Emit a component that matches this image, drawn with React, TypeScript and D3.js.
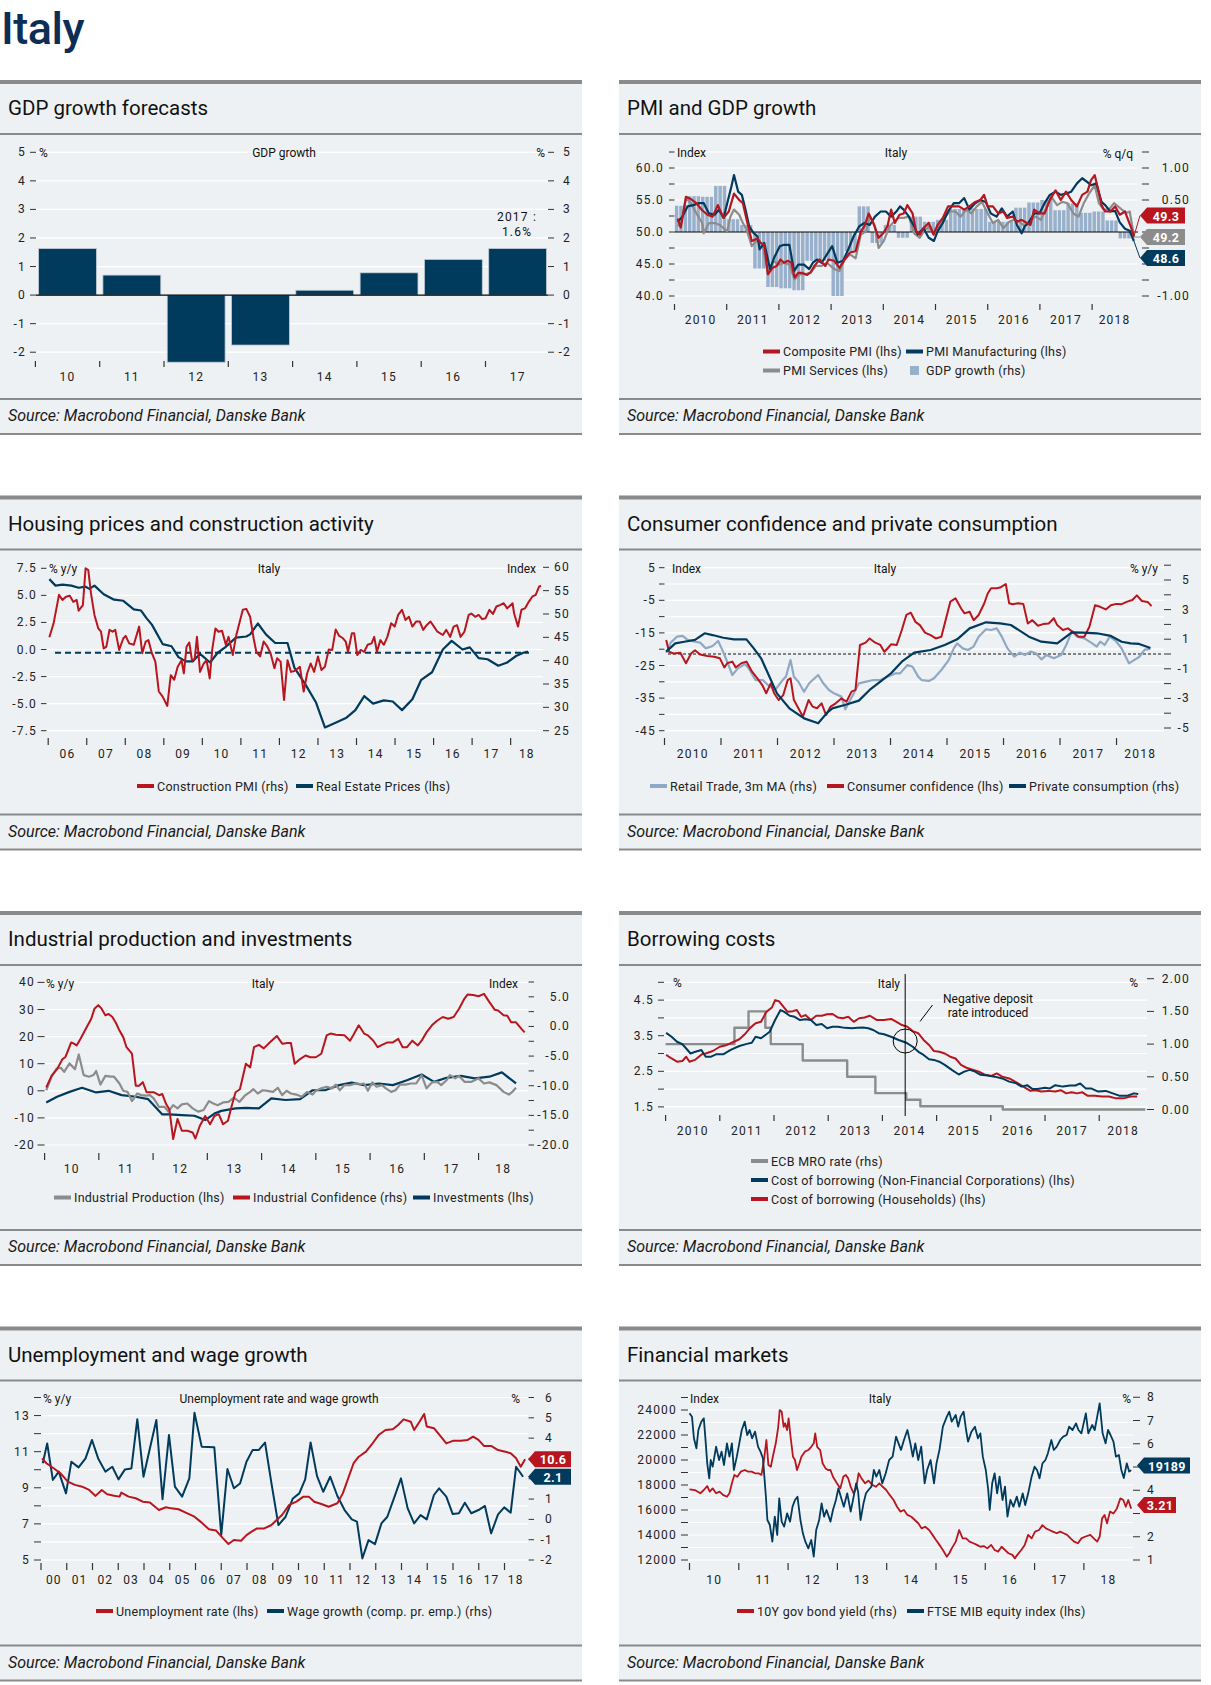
import React from "react";
import * as d3 from "d3";

type Pt = [number, number];
type Sc = d3.ScaleLinear<number, number>;

const FONT = "Roboto, 'Noto Sans', sans-serif";
const RED = "#b8161f";
const NAVY = "#003a5d";
const GRAY = "#8c8c8c";
const LBLUE = "#8fa8c4";
const GDPBAR = "#98b0cb";
const BG = "#eef1f3";
const RULE = "#8a8a8a";
const ROWS = [80, 495.5, 911, 1326.5];

// ---------------- DATA ----------------
const gdpYears = ["10", "11", "12", "13", "14", "15", "16", "17"];
const gdpGrowth = [1.63, 0.7, -2.35, -1.75, 0.17, 0.78, 1.25, 1.63];

const pmiComposite: Pt[] = [
  [2010.06, 52.1], [2010.12, 50.7], [2010.22, 55.5], [2010.32, 55.1], [2010.42, 54.5], [2010.53, 53.4], [2010.63, 52.7], [2010.73, 52.4], [2010.83, 54.2], [2010.94, 52.2],
  [2011.04, 53.2], [2011.14, 56.0], [2011.24, 55.0], [2011.31, 54.5], [2011.38, 52.0], [2011.48, 48.6], [2011.59, 49.0], [2011.65, 48.3], [2011.72, 48.0], [2011.79, 43.4], [2011.88, 44.4], [2011.96, 44.7],
  [2012.03, 45.7], [2012.1, 45.2], [2012.17, 45.5], [2012.24, 45.2], [2012.3, 42.9], [2012.37, 43.6], [2012.45, 43.6], [2012.54, 43.3], [2012.61, 43.7], [2012.68, 44.7], [2012.78, 45.7], [2012.89, 44.7], [2012.95, 45.7],
  [2013.06, 45.5], [2013.16, 44.4], [2013.26, 45.7], [2013.36, 46.8], [2013.47, 47.0], [2013.57, 50.1], [2013.64, 50.9], [2013.72, 52.9], [2013.81, 51.4], [2013.91, 49.1],
  [2014.0, 49.8], [2014.08, 50.9], [2014.15, 53.5], [2014.22, 51.4], [2014.31, 52.7], [2014.39, 52.9], [2014.46, 54.2], [2014.56, 52.9], [2014.63, 50.1], [2014.7, 49.6], [2014.77, 50.6], [2014.87, 51.4], [2014.96, 49.6],
  [2015.04, 51.1], [2015.14, 52.2], [2015.24, 54.0], [2015.35, 54.0], [2015.45, 54.0], [2015.55, 53.5], [2015.65, 54.0], [2015.76, 54.7], [2015.86, 55.0], [2015.93, 55.8],
  [2016.0, 54.0], [2016.1, 54.0], [2016.2, 52.9], [2016.3, 53.2], [2016.37, 52.2], [2016.48, 52.4], [2016.56, 51.6], [2016.65, 51.9], [2016.75, 51.4], [2016.82, 51.1], [2016.89, 53.5], [2016.99, 52.9],
  [2017.09, 52.9], [2017.19, 55.0], [2017.3, 56.5], [2017.4, 55.0], [2017.5, 56.3], [2017.6, 55.0], [2017.71, 54.0], [2017.81, 55.8], [2017.91, 56.3], [2017.98, 58.1],
  [2018.05, 58.9], [2018.12, 56.5], [2018.18, 54.2], [2018.25, 53.2], [2018.35, 53.2], [2018.44, 54.0], [2018.53, 52.7], [2018.63, 53.2], [2018.69, 51.9], [2018.76, 50.4], [2018.8, 49.3],
];
const pmiManufacturing: Pt[] = [
  [2010.06, 51.6], [2010.15, 52.4], [2010.25, 54.0], [2010.36, 54.2], [2010.46, 54.5], [2010.56, 54.5], [2010.66, 52.9], [2010.77, 52.7], [2010.85, 53.5], [2010.94, 52.2],
  [2011.01, 54.5], [2011.09, 57.1], [2011.14, 58.9], [2011.22, 56.3], [2011.29, 55.8], [2011.36, 53.5], [2011.43, 50.9], [2011.52, 49.8], [2011.59, 49.3], [2011.63, 47.3], [2011.72, 48.3], [2011.83, 44.2], [2011.91, 46.0],
  [2012.02, 47.8], [2012.1, 48.0], [2012.2, 48.0], [2012.29, 43.9], [2012.37, 44.9], [2012.48, 44.9], [2012.58, 44.2], [2012.65, 45.2], [2012.73, 45.7], [2012.82, 45.2], [2012.92, 46.5],
  [2013.02, 47.8], [2013.12, 45.2], [2013.23, 45.5], [2013.33, 47.3], [2013.43, 49.3], [2013.54, 50.9], [2013.64, 51.4], [2013.74, 51.1], [2013.84, 52.4], [2013.95, 53.2],
  [2014.05, 53.2], [2014.15, 52.4], [2014.25, 53.2], [2014.32, 54.0], [2014.39, 53.5], [2014.49, 52.4], [2014.59, 50.9], [2014.66, 49.6], [2014.77, 50.6], [2014.87, 49.1], [2014.97, 48.6],
  [2015.04, 50.1], [2015.14, 51.4], [2015.24, 53.2], [2015.35, 54.5], [2015.45, 54.5], [2015.55, 55.3], [2015.65, 53.5], [2015.76, 54.5], [2015.86, 55.0], [2015.96, 54.7],
  [2016.06, 52.9], [2016.17, 52.4], [2016.27, 53.7], [2016.37, 52.4], [2016.48, 53.2], [2016.56, 51.1], [2016.65, 49.8], [2016.71, 50.9], [2016.78, 51.4], [2016.89, 52.9], [2016.99, 52.9],
  [2017.09, 54.5], [2017.19, 55.8], [2017.3, 56.3], [2017.4, 55.8], [2017.5, 56.0], [2017.6, 56.3], [2017.71, 57.6], [2017.81, 58.4], [2017.91, 57.8], [2017.98, 57.3],
  [2018.08, 57.6], [2018.18, 54.7], [2018.25, 54.2], [2018.35, 53.2], [2018.44, 53.3], [2018.53, 51.5], [2018.63, 50.5], [2018.72, 50.2], [2018.8, 48.6],
];
const pmiServices: Pt[] = [
  [2010.06, 51.1], [2010.12, 50.9], [2010.22, 55.3], [2010.32, 54.5], [2010.42, 52.9], [2010.53, 51.4], [2010.56, 49.8], [2010.66, 51.4], [2010.77, 51.4], [2010.87, 51.1],
  [2011.01, 50.1], [2011.07, 52.4], [2011.14, 53.5], [2011.24, 52.7], [2011.31, 51.4], [2011.38, 50.4], [2011.48, 47.8], [2011.59, 48.8], [2011.69, 48.0], [2011.79, 43.4], [2011.89, 45.5],
  [2012.0, 44.9], [2012.1, 45.2], [2012.2, 44.9], [2012.3, 42.6], [2012.41, 43.4], [2012.51, 43.4], [2012.61, 43.7], [2012.71, 44.7], [2012.82, 44.7], [2012.92, 45.2],
  [2013.06, 44.2], [2013.16, 43.9], [2013.26, 45.7], [2013.36, 46.5], [2013.47, 45.9], [2013.57, 49.6], [2013.67, 50.1], [2013.74, 52.4], [2013.84, 50.9], [2013.91, 47.5],
  [2014.01, 48.6], [2014.12, 50.9], [2014.18, 51.4], [2014.29, 52.2], [2014.39, 52.2], [2014.49, 52.4], [2014.59, 49.8], [2014.7, 49.1], [2014.8, 50.4], [2014.9, 50.9], [2014.97, 49.6],
  [2015.07, 50.9], [2015.18, 52.4], [2015.28, 53.2], [2015.38, 53.2], [2015.48, 52.4], [2015.59, 53.5], [2015.69, 52.9], [2015.79, 54.0], [2015.89, 54.7],
  [2016.0, 52.9], [2016.1, 51.4], [2016.2, 51.9], [2016.3, 50.6], [2016.41, 51.6], [2016.51, 51.9], [2016.61, 51.6], [2016.71, 50.9], [2016.82, 51.9], [2016.92, 52.4],
  [2017.02, 51.9], [2017.12, 53.7], [2017.22, 55.5], [2017.33, 54.2], [2017.43, 54.7], [2017.53, 54.5], [2017.64, 52.9], [2017.74, 52.4], [2017.84, 54.5], [2017.94, 56.0],
  [2018.05, 57.3], [2018.13, 54.5], [2018.22, 53.5], [2018.32, 53.5], [2018.42, 54.5], [2018.57, 53.5], [2018.66, 53.0], [2018.72, 53.2], [2018.78, 50.4], [2018.8, 49.2],
];
// quarterly q/q growth from 2010Q1
const gdpQoQ = [
  0.41, 0.56, 0.55, 0.72, 0.2, 0.11, -0.57, -0.86, -0.88, -0.91, -0.45, -0.45, -1.0, -0.3, 0.4, -0.17,
  0.11, -0.09, 0.24, 0.16, 0.19, 0.36, 0.37, 0.36, 0.16, 0.16, 0.38, 0.46, 0.5, 0.34, 0.45, 0.3, 0.32, 0.18, -0.1,
];
const pmiLast = { composite: "49.3", services: "49.2", manufacturing: "48.6" };

const constructionPmi: Pt[] = [
  [2006.03, 45.0], [2006.14, 48.0], [2006.28, 54.1], [2006.37, 53.0], [2006.46, 53.7], [2006.56, 53.9], [2006.65, 52.6], [2006.74, 53.0], [2006.79, 50.7], [2006.9, 51.9], [2006.97, 59.8],
  [2007.04, 59.4], [2007.11, 54.4], [2007.2, 49.8], [2007.3, 46.9], [2007.37, 46.2], [2007.44, 42.6], [2007.51, 43.0], [2007.59, 46.6], [2007.67, 46.2], [2007.74, 46.6], [2007.84, 42.3], [2007.95, 44.8],
  [2008.01, 45.3], [2008.1, 43.7], [2008.22, 43.4], [2008.36, 47.3], [2008.44, 41.6], [2008.53, 44.1], [2008.6, 44.4], [2008.69, 41.6], [2008.78, 39.8], [2008.87, 33.4], [2008.97, 32.3],
  [2009.09, 30.3], [2009.18, 36.9], [2009.27, 35.9], [2009.36, 38.7], [2009.46, 40.1], [2009.52, 37.3], [2009.59, 43.0], [2009.66, 43.9], [2009.73, 40.1], [2009.8, 40.3], [2009.86, 45.1], [2009.94, 37.6],
  [2010.03, 39.3], [2010.11, 40.1], [2010.19, 36.2], [2010.26, 42.6], [2010.34, 46.9], [2010.42, 46.2], [2010.51, 46.4], [2010.61, 43.4], [2010.68, 45.1], [2010.79, 41.2], [2010.87, 45.1], [2010.96, 48.0],
  [2011.05, 50.9], [2011.14, 51.1], [2011.24, 49.4], [2011.33, 44.8], [2011.4, 41.9], [2011.5, 40.9], [2011.59, 44.1], [2011.68, 43.1], [2011.77, 41.6], [2011.87, 38.4], [2011.94, 40.5],
  [2012.03, 39.8], [2012.12, 31.6], [2012.21, 40.1], [2012.3, 37.6], [2012.39, 37.8], [2012.53, 38.7], [2012.63, 33.4], [2012.72, 37.3], [2012.81, 39.4], [2012.9, 37.6],
  [2013.0, 40.9], [2013.09, 38.0], [2013.18, 38.7], [2013.28, 42.4], [2013.37, 42.3], [2013.46, 46.7], [2013.55, 45.3], [2013.65, 44.8], [2013.72, 44.1], [2013.78, 41.9], [2013.88, 45.9], [2013.94, 45.9],
  [2014.02, 41.2], [2014.11, 42.3], [2014.2, 41.9], [2014.29, 43.4], [2014.39, 43.7], [2014.46, 45.1], [2014.53, 41.9], [2014.62, 44.4], [2014.71, 43.4], [2014.8, 45.1], [2014.9, 48.0], [2014.99, 47.3],
  [2015.08, 49.8], [2015.18, 50.9], [2015.27, 48.7], [2015.36, 49.4], [2015.45, 47.3], [2015.55, 48.4], [2015.64, 48.4], [2015.73, 46.6], [2015.82, 47.6], [2015.92, 48.4],
  [2016.01, 47.3], [2016.1, 46.2], [2016.24, 45.5], [2016.33, 46.6], [2016.43, 45.1], [2016.52, 47.3], [2016.61, 47.6], [2016.7, 45.1], [2016.8, 46.2], [2016.91, 49.8], [2016.98, 50.1],
  [2017.08, 49.4], [2017.17, 49.8], [2017.26, 48.9], [2017.35, 49.1], [2017.45, 50.9], [2017.54, 50.0], [2017.63, 51.6], [2017.72, 51.9], [2017.82, 52.3], [2017.91, 51.2],
  [2018.05, 52.3], [2018.09, 50.1], [2018.19, 47.3], [2018.28, 50.9], [2018.37, 51.2], [2018.47, 52.6], [2018.56, 53.7], [2018.65, 54.1], [2018.74, 55.9], [2018.79, 56.0],
];
const realEstatePrices: Pt[] = [
  [2006.03, 6.5], [2006.19, 5.9], [2006.37, 6.0], [2006.6, 5.9], [2006.79, 5.7], [2006.97, 5.8], [2007.07, 5.6], [2007.2, 5.9], [2007.44, 5.1], [2007.71, 4.6], [2007.95, 4.5],
  [2008.22, 3.7], [2008.41, 3.6], [2008.55, 2.9], [2008.69, 2.3], [2008.97, 0.5], [2009.2, 0.3], [2009.38, -0.7], [2009.57, -1.1], [2009.75, -1.1], [2009.94, -0.4],
  [2010.2, -1.2], [2010.4, -0.3], [2010.59, 0.2], [2010.87, 1.1], [2011.14, 1.2], [2011.24, 1.4], [2011.44, 2.4], [2011.65, 1.4], [2011.89, 0.6], [2012.21, 0.6],
  [2012.39, -1.7], [2012.67, -3.2], [2012.95, -4.9], [2013.18, -7.2], [2013.37, -6.9], [2013.74, -6.3], [2013.97, -5.6], [2014.2, -4.3], [2014.43, -5.0], [2014.71, -4.7],
  [2014.94, -4.8], [2015.18, -5.6], [2015.45, -4.6], [2015.68, -2.8], [2015.96, -2.1], [2016.24, 0.0], [2016.47, 0.8], [2016.75, 0.0], [2016.94, 0.2], [2017.17, -0.8],
  [2017.4, -0.9], [2017.68, -1.5], [2017.91, -1.2], [2018.14, -0.6], [2018.33, -0.3], [2018.45, -0.2],
];
const housingRef = -0.3;

const consumerConfidence: Pt[] = [
  [2010.03, -17.2], [2010.08, -20.8], [2010.16, -21.3], [2010.28, -21.1], [2010.38, -24.3], [2010.47, -21.3], [2010.54, -20.3], [2010.63, -21.6], [2010.76, -22.1], [2010.88, -22.3], [2010.98, -22.8],
  [2011.06, -25.6], [2011.11, -24.3], [2011.2, -23.8], [2011.26, -25.6], [2011.36, -24.3], [2011.45, -23.8], [2011.55, -26.9], [2011.64, -28.9], [2011.73, -31.0], [2011.8, -33.5], [2011.88, -30.5], [2011.94, -33.5],
  [2012.02, -35.6], [2012.1, -34.1], [2012.18, -29.5], [2012.23, -28.9], [2012.29, -35.6], [2012.37, -38.1], [2012.45, -40.7], [2012.55, -35.6], [2012.62, -37.6], [2012.7, -38.1], [2012.78, -36.6], [2012.86, -40.2], [2012.94, -37.6],
  [2013.03, -36.6], [2013.13, -35.1], [2013.22, -36.1], [2013.31, -33.0], [2013.38, -32.5], [2013.46, -18.7], [2013.56, -18.0], [2013.63, -16.7], [2013.73, -18.0], [2013.82, -18.7], [2013.89, -20.8], [2013.95, -19.7],
  [2014.01, -18.5], [2014.11, -18.7], [2014.2, -14.1], [2014.28, -9.5], [2014.36, -8.8], [2014.44, -11.6], [2014.52, -12.6], [2014.61, -14.9], [2014.71, -15.7], [2014.8, -16.7], [2014.9, -16.2], [2014.96, -12.1],
  [2015.06, -5.4], [2015.15, -4.4], [2015.25, -7.5], [2015.31, -9.0], [2015.4, -8.5], [2015.47, -11.1], [2015.56, -9.5], [2015.66, -5.9], [2015.72, -2.9], [2015.78, -1.3], [2015.88, -1.3], [2015.94, -1.1],
  [2016.04, 0.0], [2016.1, -5.9], [2016.16, -6.2], [2016.26, -5.9], [2016.35, -6.1], [2016.43, -12.1], [2016.51, -11.1], [2016.61, -12.8], [2016.7, -12.3], [2016.8, -12.1], [2016.89, -10.5], [2016.95, -12.6],
  [2017.05, -14.1], [2017.14, -13.6], [2017.24, -14.9], [2017.33, -16.2], [2017.43, -16.2], [2017.52, -13.1], [2017.62, -6.5], [2017.71, -7.0], [2017.81, -7.8], [2017.9, -6.5],
  [2018.0, -6.1], [2018.09, -6.2], [2018.19, -5.4], [2018.28, -4.9], [2018.36, -3.5], [2018.45, -5.2], [2018.55, -5.5], [2018.62, -6.8],
];
const privateConsumption: Pt[] = [
  [2010.03, 0.16], [2010.19, 0.72], [2010.35, 0.83], [2010.54, 0.95], [2010.71, 1.4], [2010.85, 1.28], [2011.04, 1.1], [2011.23, 0.99], [2011.45, 0.99], [2011.58, 0.38],
  [2011.71, -0.29], [2011.83, -1.3], [2011.99, -2.66], [2012.21, -3.67], [2012.47, -4.35], [2012.72, -4.68], [2012.88, -3.96], [2012.97, -3.67], [2013.19, -3.45], [2013.44, -3.15],
  [2013.63, -2.43], [2013.82, -1.87], [2014.01, -1.3], [2014.2, -0.52], [2014.42, 0.09], [2014.71, 0.27], [2014.96, 0.61], [2015.18, 0.99], [2015.4, 1.73], [2015.69, 2.14],
  [2015.94, 2.07], [2016.13, 1.96], [2016.45, 1.17], [2016.67, 0.83], [2016.95, 0.72], [2017.21, 1.46], [2017.4, 1.44], [2017.65, 1.4], [2017.9, 1.22], [2018.09, 0.83],
  [2018.25, 0.72], [2018.4, 0.68], [2018.6, 0.4],
];
const retailTrade: Pt[] = [
  [2010.03, 0.09], [2010.11, 0.77], [2010.22, 1.17], [2010.32, 1.22], [2010.41, 0.95], [2010.54, 0.83], [2010.63, 0.77], [2010.73, 0.38], [2010.85, 0.54], [2010.95, 0.88],
  [2011.01, 0.38], [2011.11, -0.52], [2011.2, -1.42], [2011.3, -0.97], [2011.42, -0.68], [2011.49, -0.97], [2011.61, -1.76], [2011.74, -1.76], [2011.83, -2.09], [2011.96, -2.43],
  [2012.09, -1.76], [2012.15, -1.53], [2012.23, -0.41], [2012.29, -1.53], [2012.37, -1.87], [2012.47, -2.55], [2012.56, -1.98], [2012.72, -1.42], [2012.81, -1.98], [2012.91, -2.43],
  [2013.0, -2.66], [2013.13, -2.88], [2013.2, -3.74], [2013.27, -3.22], [2013.35, -2.66], [2013.44, -1.98], [2013.57, -1.87], [2013.7, -1.76], [2013.82, -1.76], [2013.95, -1.53],
  [2014.08, -1.31], [2014.17, -1.31], [2014.3, -0.74], [2014.39, -0.86], [2014.49, -1.53], [2014.55, -1.76], [2014.68, -1.82], [2014.77, -1.64], [2014.9, -1.08],
  [2015.03, -0.41], [2015.12, 0.38], [2015.18, 0.72], [2015.28, 0.38], [2015.37, 0.27], [2015.47, 0.5], [2015.56, 1.17], [2015.69, 1.67], [2015.78, 1.62], [2015.88, 1.73], [2015.97, 1.17],
  [2016.07, 0.38], [2016.19, -0.18], [2016.29, 0.09], [2016.38, -0.07], [2016.48, 0.16], [2016.57, 0.05], [2016.67, -0.36], [2016.76, -0.07], [2016.89, -0.29],
  [2017.02, -0.07], [2017.11, 0.61], [2017.21, 1.55], [2017.3, 1.17], [2017.43, 1.06], [2017.55, 0.77], [2017.65, 0.5], [2017.71, 0.83], [2017.79, 0.61], [2017.88, 1.17],
  [2018.0, 0.83], [2018.09, 0.38], [2018.22, -0.63], [2018.31, -0.41], [2018.4, -0.2], [2018.5, 0.3], [2018.6, 0.35],
];

const industrialConfidence: Pt[] = [
  [2010.03, -10.3], [2010.13, -8.3], [2010.23, -7.2], [2010.33, -5.5], [2010.38, -5.2], [2010.43, -4.1], [2010.49, -2.7], [2010.54, -2.9], [2010.59, -3.2], [2010.66, -2.1], [2010.76, -0.4], [2010.86, 1.3], [2010.92, 3.0], [2010.99, 3.6],
  [2011.05, 3.0], [2011.12, 1.9], [2011.18, 2.1], [2011.25, 1.6], [2011.32, 0.5], [2011.38, -0.7], [2011.45, -1.8], [2011.51, -3.5], [2011.61, -4.6], [2011.68, -10.0], [2011.74, -10.0], [2011.81, -9.4], [2011.88, -11.1], [2011.94, -11.1],
  [2012.01, -11.1], [2012.11, -11.6], [2012.17, -11.4], [2012.24, -13.1], [2012.3, -14.0], [2012.37, -19.0], [2012.45, -15.6], [2012.53, -17.6], [2012.63, -17.6], [2012.73, -17.9], [2012.78, -18.9], [2012.86, -16.8], [2012.96, -15.1],
  [2013.05, -16.5], [2013.13, -15.1], [2013.21, -14.8], [2013.29, -16.5], [2013.38, -15.9], [2013.44, -13.7], [2013.52, -11.1], [2013.6, -10.6], [2013.71, -6.3], [2013.79, -6.9], [2013.86, -3.5], [2013.95, -3.1],
  [2014.04, -3.7], [2014.15, -2.7], [2014.28, -1.6], [2014.38, -2.9], [2014.48, -2.8], [2014.54, -2.8], [2014.61, -6.3], [2014.71, -5.5], [2014.81, -4.9], [2014.9, -5.2],
  [2015.0, -5.2], [2015.1, -4.6], [2015.2, -1.5], [2015.27, -1.2], [2015.37, -1.4], [2015.53, -1.5], [2015.63, -2.4], [2015.69, -1.5], [2015.79, 0.2], [2015.89, -1.2], [2015.96, -1.5],
  [2016.06, -2.4], [2016.14, -3.5], [2016.22, -3.1], [2016.32, -2.7], [2016.42, -2.7], [2016.52, -2.1], [2016.6, -3.5], [2016.68, -3.5], [2016.78, -2.4], [2016.88, -3.2], [2016.95, -2.4],
  [2017.04, -1.0], [2017.14, 0.2], [2017.24, 1.0], [2017.34, 1.6], [2017.44, 1.3], [2017.54, 1.6], [2017.64, 3.0], [2017.74, 4.7], [2017.8, 5.4], [2017.9, 5.3],
  [2018.0, 5.1], [2018.1, 5.5], [2018.2, 4.1], [2018.3, 2.8], [2018.36, 2.7], [2018.46, 1.9], [2018.53, 1.8], [2018.6, 0.7], [2018.69, 0.7], [2018.79, -0.4], [2018.85, -1.0],
];
const industrialProduction: Pt[] = [
  [2010.03, 0.2], [2010.13, 5.2], [2010.22, 8.2], [2010.3, 8.5], [2010.36, 7.0], [2010.46, 10.1], [2010.56, 8.0], [2010.63, 13.4], [2010.72, 5.8], [2010.82, 5.2], [2010.9, 5.8], [2010.95, 7.3],
  [2011.03, 2.3], [2011.12, 5.5], [2011.22, 5.2], [2011.28, 5.2], [2011.38, 2.7], [2011.45, 0.0], [2011.53, -0.4], [2011.61, -3.8], [2011.71, -1.0], [2011.78, -1.6], [2011.88, -1.8], [2011.94, -1.6],
  [2012.01, -2.8], [2012.11, -5.9], [2012.21, -5.9], [2012.28, -7.7], [2012.37, -5.3], [2012.45, -6.5], [2012.53, -5.0], [2012.63, -4.7], [2012.73, -6.5], [2012.83, -7.7], [2012.93, -7.1],
  [2013.03, -3.8], [2013.11, -4.7], [2013.19, -5.3], [2013.29, -4.3], [2013.39, -4.1], [2013.49, -2.5], [2013.59, -4.1], [2013.69, -1.8], [2013.79, -0.4], [2013.85, 0.6], [2013.93, -1.0],
  [2014.02, 0.2], [2014.11, 0.0], [2014.21, -0.4], [2014.3, 1.1], [2014.38, -1.6], [2014.46, 0.0], [2014.54, -1.0], [2014.64, -1.4], [2014.74, -2.2], [2014.84, -0.4], [2014.94, -1.4],
  [2015.0, 0.0], [2015.1, 0.9], [2015.2, 1.5], [2015.3, 0.9], [2015.37, 2.3], [2015.44, 0.2], [2015.53, 2.1], [2015.63, 2.1], [2015.73, 2.7], [2015.83, 2.5], [2015.89, 2.7], [2015.96, 0.0],
  [2016.04, 3.1], [2016.12, 1.5], [2016.22, 2.1], [2016.29, 0.9], [2016.39, -0.4], [2016.47, 0.2], [2016.55, 2.3], [2016.65, 2.3], [2016.75, 2.7], [2016.85, 2.7], [2016.95, 5.8],
  [2017.04, 0.9], [2017.14, 3.1], [2017.24, 3.3], [2017.31, 2.1], [2017.41, 3.9], [2017.47, 5.8], [2017.57, 4.6], [2017.64, 5.5], [2017.74, 3.3], [2017.87, 3.3],
  [2018.0, 4.6], [2018.1, 2.7], [2018.2, 3.1], [2018.33, 2.1], [2018.46, -0.4], [2018.56, -1.4], [2018.62, -0.4], [2018.69, 1.1],
];
const investments: Pt[] = [
  [2010.03, -4.3], [2010.23, -2.2], [2010.46, -0.4], [2010.69, 1.1], [2010.95, -0.6], [2011.18, 0.0], [2011.42, -1.6], [2011.68, -2.2], [2011.91, -3.1], [2012.17, -8.7],
  [2012.3, -8.7], [2012.53, -9.0], [2012.76, -9.2], [2012.96, -10.8], [2013.13, -8.4], [2013.26, -7.4], [2013.52, -6.5], [2013.72, -6.3], [2013.95, -6.5], [2014.18, -2.8],
  [2014.44, -3.4], [2014.71, -3.1], [2014.94, 0.2], [2015.17, 0.2], [2015.43, 2.1], [2015.66, 3.0], [2015.89, 2.1], [2016.16, 2.7], [2016.42, 2.1], [2016.68, 3.9],
  [2016.95, 6.0], [2017.18, 3.3], [2017.41, 4.8], [2017.67, 5.5], [2017.93, 4.6], [2018.2, 5.2], [2018.43, 6.8], [2018.69, 2.7],
];

const ecbRate: Pt[] = [
  [2010.0, 1.0], [2011.27, 1.25], [2011.53, 1.5], [2011.84, 1.25], [2011.94, 1.0], [2012.53, 0.75], [2013.35, 0.5], [2013.87, 0.25],
  [2014.44, 0.15], [2014.7, 0.05], [2016.22, 0.0], [2018.85, 0.0],
];
const costNFC: Pt[] = [
  [2010.01, 3.58], [2010.11, 3.47], [2010.21, 3.33], [2010.31, 3.26], [2010.38, 3.14], [2010.46, 3.0], [2010.55, 3.05], [2010.66, 3.1], [2010.74, 2.91], [2010.84, 2.91], [2010.94, 2.98],
  [2011.07, 2.98], [2011.2, 3.1], [2011.36, 3.21], [2011.5, 3.27], [2011.59, 3.3], [2011.66, 3.47], [2011.76, 3.43], [2011.86, 3.54], [2011.92, 3.61],
  [2012.02, 3.94], [2012.12, 4.22], [2012.19, 4.17], [2012.29, 4.06], [2012.38, 4.03], [2012.48, 3.94], [2012.58, 3.96], [2012.68, 3.94], [2012.78, 3.8], [2012.88, 3.83], [2012.98, 3.71],
  [2013.08, 3.75], [2013.18, 3.75], [2013.31, 3.72], [2013.44, 3.71], [2013.54, 3.72], [2013.64, 3.73], [2013.74, 3.71], [2013.83, 3.66], [2013.93, 3.57],
  [2014.03, 3.54], [2014.16, 3.47], [2014.3, 3.38], [2014.43, 3.31], [2014.56, 3.19], [2014.68, 3.03], [2014.76, 2.96], [2014.86, 2.84], [2014.95, 2.82],
  [2015.05, 2.77], [2015.15, 2.68], [2015.28, 2.54], [2015.41, 2.41], [2015.51, 2.49], [2015.61, 2.54], [2015.71, 2.49], [2015.81, 2.4], [2015.94, 2.38],
  [2016.07, 2.35], [2016.21, 2.3], [2016.34, 2.21], [2016.47, 2.16], [2016.57, 2.07], [2016.67, 2.11], [2016.77, 2.0], [2016.86, 2.0],
  [2017.0, 2.04], [2017.09, 2.02], [2017.19, 2.11], [2017.33, 2.07], [2017.46, 2.1], [2017.56, 2.1], [2017.65, 2.16], [2017.75, 2.02], [2017.85, 2.02], [2017.98, 1.93],
  [2018.12, 1.95], [2018.25, 1.88], [2018.38, 1.81], [2018.51, 1.81], [2018.64, 1.88], [2018.72, 1.86],
];
const costHouseholds: Pt[] = [
  [2010.01, 2.96], [2010.11, 2.86], [2010.21, 2.77], [2010.31, 2.79], [2010.38, 2.91], [2010.44, 2.77], [2010.54, 2.82], [2010.67, 2.98], [2010.74, 3.0], [2010.87, 3.07],
  [2011.0, 3.19], [2011.13, 3.24], [2011.26, 3.33], [2011.36, 3.4], [2011.46, 3.54], [2011.56, 3.72], [2011.66, 3.85], [2011.76, 3.89], [2011.86, 4.17], [2011.96, 4.29],
  [2012.02, 4.5], [2012.09, 4.47], [2012.15, 4.36], [2012.25, 4.17], [2012.35, 4.19], [2012.42, 4.22], [2012.5, 4.03], [2012.58, 4.08], [2012.68, 3.94], [2012.78, 4.06], [2012.88, 4.06], [2012.98, 4.1],
  [2013.08, 4.11], [2013.18, 4.01], [2013.27, 3.99], [2013.37, 4.03], [2013.47, 3.89], [2013.57, 3.99], [2013.67, 4.01], [2013.77, 4.06], [2013.9, 3.94],
  [2014.03, 3.94], [2014.16, 3.97], [2014.26, 3.89], [2014.36, 3.8], [2014.46, 3.75], [2014.56, 3.63], [2014.66, 3.57], [2014.76, 3.38], [2014.86, 3.24], [2014.95, 3.07],
  [2015.05, 3.05], [2015.15, 3.0], [2015.25, 2.91], [2015.35, 2.86], [2015.45, 2.68], [2015.55, 2.6], [2015.68, 2.54], [2015.78, 2.49], [2015.88, 2.41],
  [2016.01, 2.37], [2016.11, 2.44], [2016.21, 2.35], [2016.34, 2.3], [2016.47, 2.19], [2016.6, 2.07], [2016.73, 1.95], [2016.83, 1.97], [2016.93, 1.93],
  [2017.06, 1.95], [2017.19, 1.93], [2017.29, 1.97], [2017.39, 1.88], [2017.49, 1.91], [2017.59, 1.88], [2017.69, 1.91], [2017.79, 1.81], [2017.92, 1.81],
  [2018.05, 1.79], [2018.18, 1.79], [2018.31, 1.74], [2018.45, 1.74], [2018.58, 1.79], [2018.7, 1.79],
];
const negativeRateDate = 2014.42;

const unemploymentRate: Pt[] = [
  [2000.04, 10.63], [2000.21, 10.36], [2000.49, 10.08], [2000.76, 9.8], [2001.04, 9.34], [2001.32, 9.16], [2001.6, 9.06], [2001.87, 8.88], [2002.12, 8.55], [2002.36, 8.88],
  [2002.57, 8.64], [2002.84, 8.56], [2003.05, 8.51], [2003.12, 8.73], [2003.4, 8.51], [2003.68, 8.42], [2003.95, 8.23], [2004.23, 8.18], [2004.58, 7.77], [2004.85, 7.92],
  [2005.06, 7.86], [2005.34, 7.81], [2005.62, 7.62], [2005.96, 7.4], [2006.24, 7.07], [2006.52, 6.7], [2006.8, 6.63], [2007.07, 6.2], [2007.28, 5.89], [2007.49, 6.11],
  [2007.77, 6.07], [2007.98, 6.38], [2008.18, 6.57], [2008.39, 6.75], [2008.67, 6.75], [2008.95, 6.94], [2009.15, 7.22], [2009.36, 7.49], [2009.64, 8.05], [2009.92, 8.23],
  [2010.19, 8.51], [2010.4, 8.51], [2010.61, 8.23], [2010.89, 8.1], [2011.17, 7.95], [2011.51, 8.14], [2011.72, 8.69], [2011.93, 9.52], [2012.14, 10.36], [2012.34, 10.72],
  [2012.62, 11.0], [2012.83, 11.37], [2013.11, 11.92], [2013.38, 12.2], [2013.66, 12.24], [2013.87, 12.48], [2014.08, 12.79], [2014.36, 12.66], [2014.49, 12.2], [2014.7, 12.66],
  [2014.88, 13.09], [2014.98, 12.39], [2015.26, 12.3], [2015.53, 11.83], [2015.74, 11.46], [2016.02, 11.61], [2016.3, 11.61], [2016.57, 11.65], [2016.78, 11.83], [2016.99, 11.65],
  [2017.2, 11.32], [2017.48, 11.32], [2017.75, 11.09], [2018.03, 11.0], [2018.24, 10.91], [2018.45, 10.63], [2018.63, 10.17], [2018.8, 10.58],
];
const wageGrowth: Pt[] = [
  [2000.07, 2.76], [2000.24, 3.74], [2000.46, 1.94], [2000.69, 2.35], [2000.97, 1.28], [2001.18, 2.84], [2001.46, 2.56], [2001.73, 3.0], [2001.98, 3.91], [2002.22, 3.0],
  [2002.5, 2.35], [2002.77, 2.59], [2003.01, 1.97], [2003.26, 2.46], [2003.51, 2.51], [2003.74, 4.93], [2003.98, 2.1], [2004.23, 3.5], [2004.48, 4.89], [2004.72, 0.99],
  [2004.97, 4.15], [2005.2, 1.61], [2005.48, 1.12], [2005.76, 2.02], [2005.96, 5.25], [2006.24, 3.58], [2006.73, 3.55], [2007.0, -0.77], [2007.24, 2.48], [2007.49, 1.53],
  [2007.73, 1.77], [2007.98, 2.84], [2008.22, 3.42], [2008.46, 3.42], [2008.7, 3.78], [2008.95, 1.77], [2009.22, -0.28], [2009.5, 0.13], [2009.78, 1.03], [2010.03, 1.28],
  [2010.26, 1.97], [2010.47, 3.79], [2010.72, 2.13], [2010.96, 1.36], [2011.23, 2.1], [2011.51, 1.15], [2011.79, 0.46], [2012.07, 0.0], [2012.27, -0.11], [2012.48, -1.92],
  [2012.72, -1.02], [2012.97, -1.22], [2013.22, -0.2], [2013.45, 0.13], [2013.73, 1.12], [2013.98, 2.02], [2014.24, 0.54], [2014.49, -0.2], [2014.74, 0.21], [2014.98, 0.0],
  [2015.26, 1.2], [2015.46, 1.53], [2015.74, 1.12], [2015.99, 0.26], [2016.23, 0.3], [2016.46, 0.82], [2016.71, 0.3], [2016.99, 0.46], [2017.24, 0.66], [2017.48, -0.69],
  [2017.75, 0.25], [2017.99, 0.59], [2018.24, 0.33], [2018.45, 2.59], [2018.72, 2.1],
];

const ftseMib: Pt[] = [
  [2010.0, 23733], [2010.05, 23467], [2010.09, 21733], [2010.14, 20933], [2010.18, 22400], [2010.24, 23067], [2010.29, 23333], [2010.32, 21867], [2010.36, 19733], [2010.4, 18533],
  [2010.43, 20000], [2010.47, 19467], [2010.54, 21067], [2010.6, 20000], [2010.65, 20667], [2010.7, 19600], [2010.76, 21333], [2010.81, 20267], [2010.86, 21333], [2010.9, 19200], [2010.96, 20267],
  [2011.01, 21333], [2011.06, 22400], [2011.12, 23067], [2011.17, 22000], [2011.22, 22400], [2011.27, 21733], [2011.33, 22267], [2011.39, 21067], [2011.44, 20667], [2011.49, 20133],
  [2011.55, 17067], [2011.58, 15200], [2011.63, 14800], [2011.68, 13467], [2011.73, 15467], [2011.78, 14000], [2011.82, 16933], [2011.87, 15067], [2011.92, 14667], [2011.98, 15733],
  [2012.04, 15067], [2012.09, 16267], [2012.14, 16800], [2012.19, 17067], [2012.25, 15200], [2012.3, 14133], [2012.35, 13467], [2012.41, 12933], [2012.47, 13600], [2012.52, 12267],
  [2012.57, 14400], [2012.63, 15200], [2012.68, 16533], [2012.73, 15467], [2012.78, 16000], [2012.86, 15067], [2012.91, 16000], [2012.97, 16800],
  [2013.02, 17733], [2013.07, 17067], [2013.13, 16267], [2013.2, 17333], [2013.27, 15867], [2013.33, 17067], [2013.38, 18133], [2013.42, 17467], [2013.47, 15200], [2013.53, 16533],
  [2013.58, 17333], [2013.63, 17600], [2013.69, 17867], [2013.74, 19200], [2013.79, 18667], [2013.85, 19200], [2013.91, 18133], [2013.98, 18933],
  [2014.05, 20000], [2014.12, 20267], [2014.19, 21867], [2014.24, 21333], [2014.29, 20800], [2014.35, 21600], [2014.42, 22400], [2014.48, 21333], [2014.53, 20267], [2014.58, 21333],
  [2014.64, 20000], [2014.7, 21067], [2014.77, 18133], [2014.82, 19200], [2014.89, 20000], [2014.96, 18133],
  [2015.01, 19733], [2015.07, 20800], [2015.14, 22667], [2015.22, 23467], [2015.27, 23867], [2015.32, 23067], [2015.4, 23600], [2015.45, 22667], [2015.5, 23467], [2015.56, 23867],
  [2015.61, 22400], [2015.65, 21467], [2015.72, 22267], [2015.79, 22667], [2015.85, 21733], [2015.9, 22133], [2015.95, 20267],
  [2016.01, 19200], [2016.06, 17600], [2016.09, 16000], [2016.14, 18133], [2016.19, 18933], [2016.24, 17333], [2016.29, 18667], [2016.35, 16800], [2016.4, 17867], [2016.45, 15467],
  [2016.51, 16800], [2016.57, 16267], [2016.64, 17067], [2016.69, 16267], [2016.76, 17333], [2016.81, 16400], [2016.87, 17333], [2016.94, 18667],
  [2017.0, 19467], [2017.05, 19200], [2017.1, 18533], [2017.16, 19733], [2017.22, 20000], [2017.27, 20533], [2017.34, 21600], [2017.39, 20800], [2017.45, 21067], [2017.52, 21600],
  [2017.58, 21867], [2017.65, 22000], [2017.7, 22667], [2017.77, 22400], [2017.84, 22933], [2017.89, 22400], [2017.95, 22133],
  [2018.04, 23733], [2018.09, 22133], [2018.17, 22800], [2018.22, 22400], [2018.27, 23467], [2018.32, 24533], [2018.38, 22133], [2018.44, 21333], [2018.49, 22400], [2018.54, 22000],
  [2018.6, 21467], [2018.65, 20267], [2018.71, 20400], [2018.76, 19200], [2018.81, 18560], [2018.87, 19733], [2018.92, 19067], [2018.96, 19189],
];
const bondYield10y: Pt[] = [
  [2010.0, 4.04], [2010.11, 4.01], [2010.22, 3.87], [2010.29, 4.01], [2010.36, 4.18], [2010.41, 3.94], [2010.47, 4.08], [2010.54, 3.87], [2010.61, 3.94], [2010.68, 3.8], [2010.76, 3.72],
  [2010.81, 3.87], [2010.86, 4.3], [2010.91, 4.66], [2010.97, 4.58], [2011.04, 4.8], [2011.12, 4.87], [2011.19, 4.8], [2011.26, 4.8], [2011.33, 4.73], [2011.4, 4.73], [2011.46, 4.66],
  [2011.51, 5.3], [2011.56, 6.16], [2011.6, 5.09], [2011.65, 5.01], [2011.69, 5.44], [2011.75, 6.02], [2011.8, 6.73], [2011.83, 7.45], [2011.87, 7.38], [2011.91, 6.73], [2011.94, 6.88],
  [2011.98, 6.59], [2012.01, 7.09], [2012.05, 6.3], [2012.1, 5.44], [2012.14, 5.3], [2012.18, 4.87], [2012.23, 5.16], [2012.27, 5.44], [2012.34, 5.66], [2012.41, 5.73], [2012.47, 5.87],
  [2012.52, 6.02], [2012.55, 6.45], [2012.59, 5.87], [2012.65, 5.73], [2012.7, 5.16], [2012.76, 4.94], [2012.81, 4.87], [2012.86, 4.87], [2012.91, 4.58], [2012.99, 4.3],
  [2013.06, 4.08], [2013.12, 4.58], [2013.17, 4.66], [2013.22, 4.51], [2013.27, 4.15], [2013.33, 3.87], [2013.38, 4.08], [2013.43, 4.73], [2013.49, 4.51], [2013.56, 4.3],
  [2013.63, 4.41], [2013.71, 4.23], [2013.78, 4.15], [2013.85, 4.3], [2013.92, 4.15], [2013.99, 4.01],
  [2014.06, 3.8], [2014.14, 3.58], [2014.21, 3.29], [2014.28, 3.08], [2014.35, 3.15], [2014.42, 2.94], [2014.5, 2.86], [2014.57, 2.72], [2014.64, 2.58], [2014.71, 2.36],
  [2014.78, 2.43], [2014.86, 2.29], [2014.93, 2.08], [2015.0, 1.86], [2015.07, 1.65], [2015.14, 1.43], [2015.22, 1.14], [2015.27, 1.29], [2015.32, 1.5], [2015.4, 1.79],
  [2015.47, 2.29], [2015.54, 1.93], [2015.61, 1.93], [2015.68, 1.79], [2015.76, 1.72], [2015.83, 1.65], [2015.9, 1.57], [2015.97, 1.6], [2016.04, 1.5], [2016.12, 1.65],
  [2016.19, 1.43], [2016.26, 1.36], [2016.33, 1.57], [2016.4, 1.43], [2016.47, 1.29], [2016.55, 1.22], [2016.6, 1.07], [2016.65, 1.22], [2016.73, 1.43], [2016.8, 1.65],
  [2016.87, 2.08], [2016.94, 1.93], [2017.01, 2.22], [2017.09, 2.29], [2017.16, 2.5], [2017.23, 2.36], [2017.3, 2.29], [2017.37, 2.22], [2017.45, 2.15], [2017.52, 2.22],
  [2017.59, 2.15], [2017.66, 2.08], [2017.73, 1.93], [2017.8, 1.79], [2017.88, 1.72], [2017.95, 1.93], [2018.02, 2.0], [2018.13, 2.08], [2018.2, 1.93], [2018.27, 1.79],
  [2018.32, 2.0], [2018.37, 2.79], [2018.42, 2.94], [2018.47, 2.58], [2018.53, 3.08], [2018.6, 3.0], [2018.67, 3.22], [2018.74, 3.65], [2018.8, 3.58], [2018.85, 3.29],
  [2018.9, 3.58], [2018.96, 3.21],
];

// ---------------- HELPERS ----------------
const tickStyle: React.CSSProperties = { fontFamily: FONT, fontSize: 12, letterSpacing: 1.2, fill: "#222" };
const smallStyle: React.CSSProperties = { fontFamily: FONT, fontSize: 12, fill: "#111" };
const legendStyle: React.CSSProperties = { fontFamily: FONT, fontSize: 12.5, letterSpacing: 0.25, fill: "#222" };

function fmtN(n: number) {
  return (v: number) => v.toFixed(n);
}

function T({ x, y, anchor = "start", style = tickStyle, children }: any) {
  return (
    <text x={x} y={y} textAnchor={anchor} dominantBaseline="central" style={style}>
      {children}
    </text>
  );
}

function Frame({ x, y, w, title }: { x: number; y: number; w: number; title: string }) {
  return (
    <g>
      <rect x={x} y={y} width={w} height={354} fill={BG} />
      <rect x={x} y={y} width={w} height={4} fill={RULE} />
      <text x={x + 8} y={y + 35} style={{ fontFamily: FONT, fontSize: 20.5, fontWeight: 400, fill: "#111" }}>
        {title}
      </text>
      <rect x={x} y={y + 53} width={w} height={2} fill={RULE} />
      <rect x={x} y={y + 318} width={w} height={2} fill={RULE} />
      <text x={x + 8} y={y + 341} style={{ fontFamily: FONT, fontSize: 16, fontStyle: "italic", fill: "#1a1a1a" }}>
        Source: Macrobond Financial, Danske Bank
      </text>
      <rect x={x} y={y + 353} width={w} height={2} fill={RULE} />
    </g>
  );
}

function Grid({ y, values, x1, x2 }: { y: Sc; values: number[]; x1: number; x2: number }) {
  return (
    <g>
      {values.map((v) => (
        <line key={v} x1={x1} x2={x2} y1={y(v)} y2={y(v)} stroke="#ffffff" strokeWidth={1.2} />
      ))}
    </g>
  );
}

function YTicks({ y, values, x1, x2 }: { y: Sc; values: number[]; x1: number; x2: number }) {
  return (
    <g>
      {values.map((v) => (
        <line key={v} x1={x1} x2={x2} y1={y(v)} y2={y(v)} stroke="#333" strokeWidth={1} />
      ))}
    </g>
  );
}

function YLabels({ y, values, x, fmt, anchor = "end" }: { y: Sc; values: number[]; x: number; fmt: (v: number) => string; anchor?: string }) {
  return (
    <g>
      {values.map((v) => (
        <T key={v} x={x} y={y(v)} anchor={anchor}>
          {fmt(v)}
        </T>
      ))}
    </g>
  );
}

function XAxis({ x, years, y1, y2, ly, fmt, xEnd }: { x: Sc; years: number[]; y1: number; y2: number; ly: number; fmt: (v: number) => string; xEnd: number }) {
  return (
    <g>
      {years.map((yr) => (
        <line key={"t" + yr} x1={x(yr)} x2={x(yr)} y1={y1} y2={y2} stroke="#333" strokeWidth={1.2} />
      ))}
      {years.map((yr) => {
        const a = x(yr);
        const b = Math.min(x(yr + 1), xEnd);
        return (
          <T key={"l" + yr} x={(a + b) / 2} y={ly} anchor="middle">
            {fmt(yr)}
          </T>
        );
      })}
    </g>
  );
}

function Line({ data, x, y, color, width = 2, curve = d3.curveLinear, dash }: { data: Pt[]; x: Sc; y: Sc; color: string; width?: number; curve?: any; dash?: string }) {
  const d = d3
    .line<Pt>()
    .x((p) => x(p[0]))
    .y((p) => y(p[1]))
    .curve(curve)(data);
  return <path d={d || ""} fill="none" stroke={color} strokeWidth={width} strokeLinejoin="round" strokeDasharray={dash} />;
}

function Flag({ x, y, color, text, w }: { x: number; y: number; color: string; text: string; w: number }) {
  const h = 16;
  const d = `M${x},${y} L${x + 7},${y - h / 2} L${x + 7 + w},${y - h / 2} L${x + 7 + w},${y + h / 2} L${x + 7},${y + h / 2} Z`;
  return (
    <g>
      <path d={d} fill={color} />
      <text x={x + 7 + w / 2} y={y + 0.5} textAnchor="middle" dominantBaseline="central" style={{ fontFamily: FONT, fontSize: 12.5, fontWeight: 700, fill: "#fff", letterSpacing: 0.4 }}>
        {text}
      </text>
    </g>
  );
}

function LegendItem({ x, y, color, label, square }: { x: number; y: number; color: string; label: string; square?: boolean }) {
  return (
    <g>
      {square ? <rect x={x + 4} y={y - 4.5} width={9} height={9} fill={color} /> : <rect x={x} y={y - 2} width={17} height={4} fill={color} />}
      <T x={x + 20} y={y} style={legendStyle}>
        {label}
      </T>
    </g>
  );
}

// ---------------- CHARTS ----------------
function GdpChart() {
  const top = ROWS[0];
  const x = d3.scaleBand<string>().domain(gdpYears).range([35.4, 549.8]).paddingInner(0.1).paddingOuter(0.05);
  const y = d3.scaleLinear().domain([-2.35, 5]).range([362.2, 152.3]);
  const grid = d3.range(-2, 6);
  const off = x.step() * 0.05;
  return (
    <g>
      <Frame x={0} y={top} w={582} title="GDP growth forecasts" />
      <Grid y={y} values={grid} x1={36} x2={548} />
      <YTicks y={y} values={grid} x1={30} x2={36} />
      <YTicks y={y} values={grid} x1={548} x2={554} />
      <YLabels y={y} values={grid} x={26} fmt={fmtN(0)} />
      <YLabels y={y} values={grid} x={571} fmt={fmtN(0)} />
      {gdpYears.map((d, i) => {
        const v = gdpGrowth[i];
        return <rect key={d} x={x(d)} y={y(Math.max(v, 0))} width={x.bandwidth()} height={Math.abs(y(v) - y(0))} fill={NAVY} stroke="#c3ccd3" strokeWidth={0.8} />;
      })}
      <line x1={36} x2={548} y1={y(0)} y2={y(0)} stroke="#000" strokeWidth={1.2} />
      {gdpYears.map((d) => (
        <line key={"t" + d} x1={(x(d) as number) - off} x2={(x(d) as number) - off} y1={361} y2={367} stroke="#333" strokeWidth={1.2} />
      ))}
      {gdpYears.map((d) => (
        <T key={"l" + d} x={(x(d) as number) + x.bandwidth() / 2} y={377} anchor="middle">
          {d}
        </T>
      ))}
      <T x={39} y={153} style={smallStyle}>%</T>
      <T x={284} y={153} anchor="middle" style={smallStyle}>GDP growth</T>
      <T x={545} y={153} anchor="end" style={smallStyle}>%</T>
      <T x={517} y={217} anchor="middle" style={{ ...tickStyle, fill: "#111" }}>2017 :</T>
      <T x={517} y={232} anchor="middle" style={{ ...tickStyle, fill: "#111" }}>{gdpGrowth[7].toFixed(1) + "%"}</T>
    </g>
  );
}

function PmiChart() {
  const top = ROWS[0];
  const x = d3.scaleLinear().domain([2010, 2018.86]).range([674.5, 1137]);
  const y = d3.scaleLinear().domain([40, 62.5]).range([296, 152]);
  const yR = d3.scaleLinear().domain([-1, 1.25]).range([296, 152]);
  const lt = d3.range(40, 62.6, 2.5);
  const rt = d3.range(-1, 1.26, 0.25);
  const bars = gdpQoQ.flatMap((v, q) => [0, 1, 2].map((m) => ({ t: 2010 + q / 4 + m / 12, v })));
  const mw = x(2010 + 1 / 12) - x(2010);
  const lastC = pmiComposite[pmiComposite.length - 1];
  const lastS = pmiServices[pmiServices.length - 1];
  const lastM = pmiManufacturing[pmiManufacturing.length - 1];
  const tipX = 1140;
  return (
    <g>
      <Frame x={619} y={top} w={582} title="PMI and GDP growth" />
      <Grid y={y} values={lt} x1={674.5} x2={1138} />
      <YTicks y={y} values={lt} x1={669} x2={674.5} />
      <YLabels y={y} values={[40, 45, 50, 55, 60]} x={664} fmt={fmtN(1)} />
      <YTicks y={yR} values={rt} x1={1142} x2={1149} />
      <YLabels y={yR} values={[-1, 0.5, 1]} x={1190} fmt={fmtN(2)} />
      {bars.map((b, i) => (
        <rect key={i} x={x(b.t) + 0.4} width={mw - 0.9} y={yR(Math.max(b.v, 0))} height={Math.abs(yR(b.v) - yR(0))} fill={GDPBAR} />
      ))}
      <line x1={674.5} x2={1138} y1={y(50)} y2={y(50)} stroke="#000" strokeWidth={1.2} />
      <Line data={pmiServices} x={x} y={y} color={GRAY} width={2.2} />
      <Line data={pmiManufacturing} x={x} y={y} color={NAVY} width={2.2} />
      <Line data={pmiComposite} x={x} y={y} color={RED} width={2.2} />
      <XAxis x={x} years={d3.range(2010, 2019)} y1={304} y2={310} ly={320} fmt={(v) => String(v)} xEnd={1137} />
      <T x={677} y={153} style={smallStyle}>Index</T>
      <T x={896} y={153} anchor="middle" style={smallStyle}>Italy</T>
      <T x={1133} y={154} anchor="end" style={smallStyle}>% q/q</T>
      <line x1={x(lastC[0])} y1={y(lastC[1])} x2={tipX} y2={215.5} stroke={RED} strokeWidth={1} />
      <line x1={x(lastS[0])} y1={y(lastS[1])} x2={tipX} y2={237} stroke={GRAY} strokeWidth={1} />
      <line x1={x(lastM[0])} y1={y(lastM[1])} x2={tipX} y2={258} stroke={NAVY} strokeWidth={1} />
      <Flag x={tipX} y={215.5} color={RED} text={pmiLast.composite} w={38} />
      <Flag x={tipX} y={237} color={GRAY} text={pmiLast.services} w={38} />
      <Flag x={tipX} y={258} color={NAVY} text={pmiLast.manufacturing} w={38} />
      <LegendItem x={763} y={351.5} color={RED} label="Composite PMI (lhs)" />
      <LegendItem x={906} y={351.5} color={NAVY} label="PMI Manufacturing (lhs)" />
      <LegendItem x={763} y={370.5} color={GRAY} label="PMI Services (lhs)" />
      <LegendItem x={906} y={370.5} color={GDPBAR} label="GDP growth (rhs)" square />
    </g>
  );
}

function HousingChart() {
  const top = ROWS[1];
  const x = d3.scaleLinear().domain([2006, 2018.86]).range([48.2, 543.8]);
  const y = d3.scaleLinear().domain([-7.5, 7.5]).range([730.7, 568.3]);
  const yR = d3.scaleLinear().domain([25, 60]).range([730.7, 567.3]);
  const lt = d3.range(-7.5, 7.6, 2.5);
  const rt = d3.range(25, 61, 5);
  return (
    <g>
      <Frame x={0} y={top} w={582} title="Housing prices and construction activity" />
      <Grid y={y} values={lt} x1={46.5} x2={543} />
      <YTicks y={y} values={lt} x1={41} x2={46.5} />
      <YLabels y={y} values={lt} x={37} fmt={fmtN(1)} />
      <YTicks y={yR} values={rt} x1={543} x2={549} />
      <YLabels y={yR} values={rt} x={570} fmt={fmtN(0)} />
      <line x1={55} x2={529} y1={y(housingRef)} y2={y(housingRef)} stroke={NAVY} strokeWidth={2} strokeDasharray="6,4" />
      <Line data={realEstatePrices} x={x} y={y} color={NAVY} width={2.2} />
      <Line data={constructionPmi} x={x} y={yR} color={RED} width={2} />
      <XAxis x={x} years={d3.range(2006, 2019)} y1={738} y2={745} ly={754} fmt={(v) => String(v).slice(2)} xEnd={543} />
      <T x={49} y={569} style={smallStyle}>% y/y</T>
      <T x={269} y={569} anchor="middle" style={smallStyle}>Italy</T>
      <T x={536} y={569} anchor="end" style={smallStyle}>Index</T>
      <LegendItem x={137} y={786} color={RED} label="Construction PMI (rhs)" />
      <LegendItem x={296} y={786} color={NAVY} label="Real Estate Prices (lhs)" />
    </g>
  );
}

function ConsumerChart() {
  const top = ROWS[1];
  const x = d3.scaleLinear().domain([2010, 2018.75]).range([664.5, 1158.9]);
  const y = d3.scaleLinear().domain([-45, 5]).range([730.7, 567.7]);
  const yR = d3.scaleLinear().domain([-5, 5]).range([728, 580]);
  const lt = d3.range(-45, 6, 5);
  const rt = d3.range(-5, 7, 1);
  return (
    <g>
      <Frame x={619} y={top} w={582} title="Consumer confidence and private consumption" />
      <Grid y={y} values={lt} x1={664.5} x2={1164} />
      <YTicks y={y} values={lt} x1={659} x2={664.5} />
      <YLabels y={y} values={[-45, -35, -25, -15, -5, 5]} x={656} fmt={fmtN(0)} />
      <YTicks y={yR} values={rt} x1={1164} x2={1171} />
      <YLabels y={yR} values={[-5, -3, -1, 1, 3, 5]} x={1190} fmt={fmtN(0)} />
      <line x1={668} x2={1162} y1={yR(0)} y2={yR(0)} stroke="#111" strokeWidth={1} strokeDasharray="3,2" />
      <Line data={retailTrade} x={x} y={yR} color={LBLUE} width={2.2} />
      <Line data={consumerConfidence} x={x} y={y} color={RED} width={2} />
      <Line data={privateConsumption} x={x} y={yR} color={NAVY} width={2.2} />
      <XAxis x={x} years={d3.range(2010, 2019)} y1={738} y2={745} ly={754} fmt={(v) => String(v)} xEnd={1164} />
      <T x={672} y={569} style={smallStyle}>Index</T>
      <T x={885} y={569} anchor="middle" style={smallStyle}>Italy</T>
      <T x={1158} y={569} anchor="end" style={smallStyle}>% y/y</T>
      <LegendItem x={650} y={786} color={LBLUE} label="Retail Trade, 3m MA (rhs)" />
      <LegendItem x={827} y={786} color={RED} label="Consumer confidence (lhs)" />
      <LegendItem x={1009} y={786} color={NAVY} label="Private consumption (rhs)" />
    </g>
  );
}

function IndustrialChart() {
  const top = ROWS[2];
  const x = d3.scaleLinear().domain([2010, 2018.9]).range([44.6, 527.4]);
  const y = d3.scaleLinear().domain([-20, 40]).range([1145, 982.4]);
  const yR = d3.scaleLinear().domain([-20, 7.5]).range([1145, 982]);
  const lt = d3.range(-20, 41, 10);
  const rt = d3.range(-20, 7.6, 2.5);
  return (
    <g>
      <Frame x={0} y={top} w={582} title="Industrial production and investments" />
      <Grid y={y} values={lt} x1={44.6} x2={528} />
      <YTicks y={y} values={lt} x1={37.5} x2={44.6} />
      <YLabels y={y} values={lt} x={35} fmt={fmtN(0)} />
      <YTicks y={yR} values={rt} x1={528.6} x2={534} />
      <YLabels y={yR} values={[-20, -15, -10, -5, 0, 5]} x={570} fmt={fmtN(1)} />
      <Line data={investments} x={x} y={y} color={NAVY} width={2.2} />
      <Line data={industrialProduction} x={x} y={y} color={GRAY} width={2.2} />
      <Line data={industrialConfidence} x={x} y={yR} color={RED} width={2} />
      <XAxis x={x} years={d3.range(2010, 2019)} y1={1153} y2={1160} ly={1169} fmt={(v) => String(v).slice(2)} xEnd={528} />
      <T x={46} y={983.5} style={smallStyle}>% y/y</T>
      <T x={263} y={983.5} anchor="middle" style={smallStyle}>Italy</T>
      <T x={518} y={983.5} anchor="end" style={smallStyle}>Index</T>
      <LegendItem x={54} y={1197.5} color={GRAY} label="Industrial Production (lhs)" />
      <LegendItem x={233} y={1197.5} color={RED} label="Industrial Confidence (rhs)" />
      <LegendItem x={413} y={1197.5} color={NAVY} label="Investments (lhs)" />
    </g>
  );
}

function BorrowingChart() {
  const top = ROWS[2];
  const x = d3.scaleLinear().domain([2010, 2018.85]).range([665.6, 1145.3]);
  const y = d3.scaleLinear().domain([1.25, 5]).range([1115.8, 982.3]);
  const yR = d3.scaleLinear().domain([0, 2]).range([1109.5, 978.7]);
  const lt = d3.range(1.5, 5.01, 0.5);
  const rt = [0, 0.5, 1, 1.5, 2];
  const vx = x(negativeRateDate);
  return (
    <g>
      <Frame x={619} y={top} w={582} title="Borrowing costs" />
      <Grid y={y} values={lt} x1={664} x2={1147} />
      <YTicks y={y} values={lt} x1={658} x2={664} />
      <YLabels y={y} values={[1.5, 2.5, 3.5, 4.5]} x={654} fmt={fmtN(1)} />
      <YTicks y={yR} values={rt} x1={1147} x2={1154} />
      <YLabels y={yR} values={rt} x={1190} fmt={fmtN(2)} />
      <Line data={ecbRate} x={x} y={yR} color={GRAY} width={2.4} curve={d3.curveStepAfter} />
      <Line data={costHouseholds} x={x} y={y} color={RED} width={2} />
      <Line data={costNFC} x={x} y={y} color={NAVY} width={2} />
      <line x1={vx} x2={vx} y1={974} y2={1116} stroke="#000" strokeWidth={1} />
      <circle cx={vx} cy={y(3.35)} r={12} fill="none" stroke="#000" strokeWidth={1} />
      <line x1={920} y1={1021.5} x2={932.5} y2={1005} stroke="#000" strokeWidth={1} />
      <T x={988} y={998.5} anchor="middle" style={smallStyle}>Negative deposit</T>
      <T x={988} y={1013} anchor="middle" style={smallStyle}>rate introduced</T>
      <XAxis x={x} years={d3.range(2010, 2019)} y1={1115} y2={1121} ly={1131} fmt={(v) => String(v)} xEnd={1147} />
      <T x={673} y={983} style={smallStyle}>%</T>
      <T x={900} y={984} anchor="end" style={smallStyle}>Italy</T>
      <T x={1138} y={983} anchor="end" style={smallStyle}>%</T>
      <LegendItem x={751} y={1161} color={GRAY} label="ECB MRO rate (rhs)" />
      <LegendItem x={751} y={1180} color={NAVY} label="Cost of borrowing (Non-Financial Corporations) (lhs)" />
      <LegendItem x={751} y={1199} color={RED} label="Cost of borrowing (Households) (lhs)" />
    </g>
  );
}

function UnemploymentChart() {
  const top = ROWS[3];
  const x = d3.scaleLinear().domain([2000, 2018.8]).range([41, 525.1]);
  const y = d3.scaleLinear().domain([5, 14]).range([1560, 1397.5]);
  const yR = d3.scaleLinear().domain([-2, 6]).range([1560, 1397.5]);
  const lt = d3.range(5, 15, 1);
  const rt = d3.range(-2, 7, 1);
  const lastU = unemploymentRate[unemploymentRate.length - 1];
  const lastW = wageGrowth[wageGrowth.length - 1];
  return (
    <g>
      <Frame x={0} y={top} w={582} title="Unemployment and wage growth" />
      <Grid y={y} values={lt} x1={41} x2={528} />
      <YTicks y={y} values={lt} x1={34} x2={41} />
      <YLabels y={y} values={[5, 7, 9, 11, 13]} x={30} fmt={fmtN(0)} />
      <YTicks y={yR} values={rt} x1={528.6} x2={534} />
      <YLabels y={yR} values={[-2, -1, 0, 1, 4, 5, 6]} x={553} fmt={fmtN(0)} />
      <Line data={wageGrowth} x={x} y={yR} color={NAVY} width={2} />
      <Line data={unemploymentRate} x={x} y={y} color={RED} width={2} />
      <XAxis x={x} years={d3.range(2000, 2019)} y1={1563} y2={1570} ly={1580} fmt={(v) => String(v).slice(2)} xEnd={527} />
      <T x={43} y={1399} style={smallStyle}>% y/y</T>
      <T x={279} y={1399} anchor="middle" style={smallStyle}>Unemployment rate and wage growth</T>
      <T x={520} y={1399} anchor="end" style={smallStyle}>%</T>
      <Flag x={528} y={y(lastU[1])} color={RED} text={lastU[1].toFixed(1)} w={36} />
      <Flag x={528} y={yR(lastW[1])} color={NAVY} text={lastW[1].toFixed(1)} w={36} />
      <LegendItem x={96} y={1611} color={RED} label="Unemployment rate (lhs)" />
      <LegendItem x={267} y={1611} color={NAVY} label="Wage growth (comp. pr. emp.) (rhs)" />
    </g>
  );
}

function FinancialChart() {
  const top = ROWS[3];
  const x = d3.scaleLinear().domain([2010, 2018.97]).range([689.5, 1131.7]);
  const y = d3.scaleLinear().domain([12000, 25000]).range([1560, 1397.5]);
  const yR = d3.scaleLinear().domain([1, 8]).range([1560, 1397.25]);
  const lt = d3.range(12000, 25001, 1000);
  const rt = d3.range(1, 9, 1);
  const lastF = ftseMib[ftseMib.length - 1];
  const lastB = bondYield10y[bondYield10y.length - 1];
  return (
    <g>
      <Frame x={619} y={top} w={582} title="Financial markets" />
      <Grid y={y} values={lt} x1={688} x2={1133} />
      <YTicks y={y} values={lt} x1={681} x2={688} />
      <YLabels y={y} values={d3.range(12000, 24001, 2000)} x={677} fmt={fmtN(0)} />
      <YTicks y={yR} values={rt} x1={1133} x2={1140} />
      <YLabels y={yR} values={[1, 2, 4, 6, 7, 8]} x={1155} fmt={fmtN(0)} />
      <Line data={bondYield10y} x={x} y={yR} color={RED} width={1.8} />
      <Line data={ftseMib} x={x} y={y} color={NAVY} width={1.8} />
      <XAxis x={x} years={d3.range(2010, 2019)} y1={1563} y2={1570} ly={1580} fmt={(v) => String(v).slice(2)} xEnd={1133} />
      <T x={690} y={1399} style={smallStyle}>Index</T>
      <T x={880} y={1399} anchor="middle" style={smallStyle}>Italy</T>
      <T x={1131} y={1399} anchor="end" style={smallStyle}>%</T>
      <Flag x={1137} y={1465.5} color={NAVY} text={String(lastF[1])} w={46} />
      <Flag x={1137} y={1505} color={RED} text={lastB[1].toFixed(2)} w={32} />
      <LegendItem x={737} y={1611} color={RED} label="10Y gov bond yield (rhs)" />
      <LegendItem x={907} y={1611} color={NAVY} label="FTSE MIB equity index (lhs)" />
    </g>
  );
}

export default function App() {
  return (
    <svg width={1211} height={1685} viewBox="0 0 1211 1685" style={{ position: "absolute", left: 0, top: 0, background: "#fff" }} xmlns="http://www.w3.org/2000/svg">
      <rect x={0} y={0} width={1211} height={1685} fill="#fff" />
      <text x={1} y={44} style={{ fontFamily: FONT, fontSize: 45, fontWeight: 500, fill: "#0c2d55", letterSpacing: -0.5 }}>
        Italy
      </text>
      <GdpChart />
      <PmiChart />
      <HousingChart />
      <ConsumerChart />
      <IndustrialChart />
      <BorrowingChart />
      <UnemploymentChart />
      <FinancialChart />
    </svg>
  );
}
